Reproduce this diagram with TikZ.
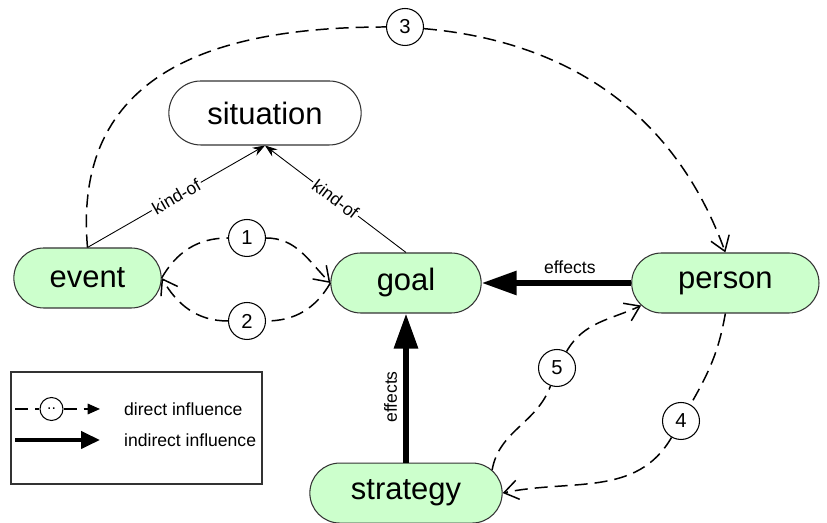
\documentclass[tikz,border=0pt]{standalone}
\usepackage{fontspec}
\setmainfont{Liberation Sans}
\usetikzlibrary{arrows,arrows.meta,positioning}
\usetikzlibrary{shapes.misc}

\begin{document}
\begin{tikzpicture}[>=stealth', every node/.style={font=\fontsize{10}{12}\selectfont},
	concept/.style={rounded rectangle, draw=black!80, line width=0.6pt, fill=green!20, minimum height=1.2cm, font=\fontsize{17.6}{20}\selectfont},
	num/.style={circle, draw, fill=white, line width=0.6pt, inner sep=0pt, minimum size=0.74cm, font=\fontsize{11.5}{13}\selectfont},
	influence/.style={line width=0.85pt, dash pattern=on 7.4pt off 4pt, -{Straight Barb[length=8pt,width=11pt]}},
	effect/.style={line width=3.4pt, -{Triangle[length=0.7cm,width=0.46cm]}},
	kind/.style={line width=0.5pt, -{Stealth[length=7pt,width=5pt]}},
	kindlabel/.style={sloped, fill=white, inner sep=1pt, midway}]
	\useasboundingbox (0,0) rectangle (16.54,10.46);

	\node[concept, fill=white, minimum width=4.08cm, minimum height=1.28cm] (situation) at (5.30,8.20) {situation};
	\node[concept, minimum width=3.18cm] (event) at (1.75,4.90) {event};
	\node[concept, minimum width=3.24cm] (goal) at (8.12,4.80) {goal};
	\node[concept, minimum width=3.98cm] (person) [right=2.99cm of goal] {person};
	\node[concept, minimum width=4.08cm] (strategy) [below=2.98cm of goal] {strategy};

	\node[num] (n1) at (4.94,5.70) {1};
	\node[num] (n2) at (4.94,4.04) {2};
	\node[num] (n3) at (8.10,9.92) {3};
	\node[num] (n4) at (13.62,2.04) {4};
	\node[num] (n5) at (11.14,3.10) {5};

	\path[kind]
	(event.north) edge node[kindlabel] {kind-of} (situation.south)
	(goal.north) edge node[kindlabel] {kind-of} (situation.south)
	;

	\draw[influence] (event.east) to[out=60,in=180] (n1) to[out=0,in=135] (goal.west);
	\draw[influence] (goal.west) to[out=-120,in=0] (n2) to[out=180,in=-60] (event.east);
	\draw[influence] (event.north) to[out=95,in=180,looseness=1.2] (n3) to[out=-5,in=110] (person.north);
	\draw[influence] (person.south) to[out=-100,in=60] (n4) to[out=240,in=12] (strategy.east);
	\draw[influence] (strategy.15) to[out=80,in=250] (n5) to[out=60,in=205] (person.195);

	\draw[effect] (person.west) -- node[pos=0.41, above] {effects} (goal.east);
	\draw[effect] (strategy.north) -- node[pos=0.44, sloped, above] {effects} (goal.south);

	% legend
	\node[draw=black!80, line width=0.8pt, minimum width=5.02cm, minimum height=2.24cm] (legend) at (2.73,1.90) {};
	\coordinate (lgA) at (0.30,2.28);
	\coordinate (lgB) at (2.00,2.28);
	\coordinate (lgC) at (0.30,1.66);
	\coordinate (lgD) at (2.00,1.66);
	\node[num, minimum size=0.46cm, font=\fontsize{9}{10}\selectfont] (lgnum) at (1.03,2.28) {..};
	\draw[line width=0.85pt, dash pattern=on 7.4pt off 4pt] (lgA) -- (lgnum);
	\draw[line width=0.85pt, dash pattern=on 7.4pt off 4pt, -{Triangle[length=7pt,width=6pt]}] (lgnum) -- (lgB);
	\draw[line width=2.3pt, -{Triangle[length=0.38cm,width=0.34cm]}] (lgC) -- (lgD);
	\node[anchor=west] (direct) at (2.36,2.28) {direct influence};
	\node[anchor=west] (indirect) at (2.36,1.66) {indirect influence};
\end{tikzpicture}
\end{document}
